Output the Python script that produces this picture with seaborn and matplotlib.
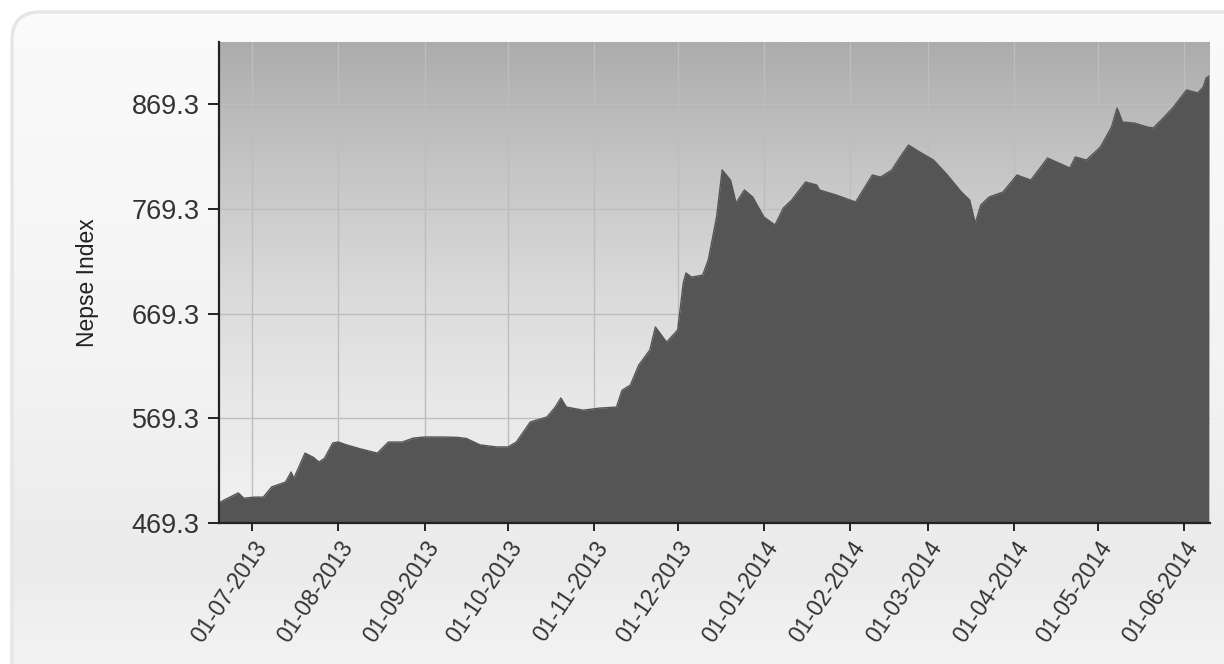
import numpy as np
import pandas as pd
import matplotlib
matplotlib.use("Agg")
import matplotlib.pyplot as plt
import matplotlib.dates as mdates
from matplotlib.colors import LinearSegmentedColormap
from matplotlib.patches import FancyBboxPatch
import seaborn as sns

# Nepse index closing levels (trading days sampled)
dates = [
    "2013-06-19", "2013-06-21", "2013-06-26", "2013-06-28", "2013-07-02", "2013-07-05",
    "2013-07-08", "2013-07-13", "2013-07-15", "2013-07-16", "2013-07-20", "2013-07-23",
    "2013-07-25", "2013-07-27", "2013-07-30", "2013-08-01", "2013-08-04", "2013-08-09",
    "2013-08-15", "2013-08-19", "2013-08-24", "2013-08-28", "2013-09-01", "2013-09-08",
    "2013-09-13", "2013-09-16", "2013-09-21", "2013-09-27", "2013-10-01", "2013-10-04",
    "2013-10-09", "2013-10-15", "2013-10-18", "2013-10-20", "2013-10-22", "2013-10-28",
    "2013-11-03", "2013-11-09", "2013-11-11", "2013-11-14", "2013-11-17", "2013-11-21",
    "2013-11-23", "2013-11-27", "2013-12-01", "2013-12-03", "2013-12-04", "2013-12-06",
    "2013-12-10", "2013-12-12", "2013-12-15", "2013-12-17", "2013-12-20", "2013-12-22",
    "2013-12-25", "2013-12-28", "2014-01-01", "2014-01-05", "2014-01-08", "2014-01-11",
    "2014-01-16", "2014-01-20", "2014-01-21", "2014-01-27", "2014-02-03", "2014-02-05",
    "2014-02-09", "2014-02-12", "2014-02-16", "2014-02-19", "2014-02-22", "2014-02-26",
    "2014-03-03", "2014-03-08", "2014-03-13", "2014-03-16", "2014-03-18", "2014-03-20",
    "2014-03-23", "2014-03-28", "2014-04-02", "2014-04-07", "2014-04-13", "2014-04-17",
    "2014-04-21", "2014-04-23", "2014-04-27", "2014-05-02", "2014-05-06", "2014-05-08",
    "2014-05-10", "2014-05-14", "2014-05-19", "2014-05-21", "2014-05-25", "2014-05-28",
    "2014-06-02", "2014-06-06", "2014-06-08", "2014-06-09", "2014-06-10",
]
nepse = [
    488.4, 491.3, 498.0, 493.0, 494.0, 494.0,
    503.7, 508.4, 518.0, 512.0, 536.0, 532.0,
    527.5, 531.0, 545.7, 546.6, 543.8, 540.0,
    536.0, 546.6, 546.6, 550.4, 551.4, 551.4,
    551.0, 550.0, 543.8, 541.9, 541.9, 546.6,
    565.7, 570.5, 580.0, 588.6, 580.0, 577.0,
    579.0, 580.0, 596.0, 601.0, 620.0, 634.5,
    656.4, 642.0, 653.5, 698.4, 708.0, 704.0,
    706.0, 720.4, 761.4, 806.3, 796.7, 774.8,
    787.2, 780.5, 761.4, 753.8, 770.0, 777.6,
    794.8, 792.0, 787.2, 782.4, 775.7, 784.3,
    801.5, 799.6, 806.3, 818.7, 830.1, 823.5,
    815.8, 801.5, 785.3, 777.6, 755.5, 772.9,
    780.5, 785.3, 801.5, 796.7, 817.7, 813.0,
    808.2, 818.7, 815.8, 828.2, 847.3, 865.5,
    852.0, 851.2, 847.3, 846.4, 857.0, 865.5,
    882.7, 879.8, 885.5, 894.1, 896.0,
]
y_ticks = [469.3, 569.3, 669.3, 769.3, 869.3]
x_ticks = [
    "2013-07-01", "2013-08-01", "2013-09-01", "2013-10-01", "2013-11-01", "2013-12-01",
    "2014-01-01", "2014-02-01", "2014-03-01", "2014-04-01", "2014-05-01", "2014-06-01",
]
y_label = "Nepse Index"

df = pd.DataFrame({"date": pd.to_datetime(dates), "nepse": nepse})

sns.set_theme(style="white")
plt.rcParams["font.family"] = ["Liberation Sans", "DejaVu Sans"]

fig = plt.figure(figsize=(12.24, 6.64), dpi=100)
fig.patch.set_facecolor("white")

# Rounded panel behind the chart
bg = fig.add_axes([0, 0, 1, 1], zorder=-5)
bg.set_xlim(0, 1224)
bg.set_ylim(664, 0)
bg.axis("off")
panel_cmap = LinearSegmentedColormap.from_list(
    "panel", [(0.0, "#fbfbfb"), (0.55, "#f3f3f3"), (0.85, "#ebebeb"), (1.0, "#f3f3f3")])
grad = np.linspace(0, 1, 256).reshape(-1, 1)
img = bg.imshow(grad, extent=[0, 1224, 664, 0], aspect="auto", cmap=panel_cmap,
                origin="upper", zorder=0)
panel = FancyBboxPatch((12, 12), 1260, 700, boxstyle="round,pad=0,rounding_size=28",
                       facecolor="none", edgecolor="#e6e6e6", linewidth=2.5, zorder=1)
bg.add_patch(panel)
img.set_clip_path(panel)

ax = fig.add_axes([219 / 1224, 1 - 523 / 664, (1210 - 219) / 1224, (523 - 42) / 664])

# Plot-area gradient
area_cmap = LinearSegmentedColormap.from_list(
    "area", [(0.0, "#acacac"), (0.25, "#c4c4c4"), (0.5, "#d9d9d9"), (0.75, "#e8e8e8"), (1.0, "#f2f2f2")])
ax.imshow(grad, extent=[0, 1, 0, 1], transform=ax.transAxes, aspect="auto",
          cmap=area_cmap, origin="upper", zorder=0)

ymin, ymax = 469.3, 928.5
ax.fill_between(df["date"], df["nepse"], ymin, color="#555555", linewidth=0, zorder=2)
sns.lineplot(data=df, x="date", y="nepse", ax=ax, color="#555555", linewidth=1.0, zorder=3)

ax.set_xlim(pd.Timestamp("2013-06-19 02:00"), pd.Timestamp("2014-06-10 10:00"))
ax.set_ylim(ymin, ymax)

ax.set_yticks(y_ticks)
ax.set_yticklabels([f"{v:.1f}" for v in y_ticks])
xt = pd.to_datetime(x_ticks)
ax.set_xticks(xt)
ax.set_xticklabels([d.strftime("%d-%m-%Y") for d in xt])

ax.grid(True, color="#bdbdbd", linewidth=1.0)
ax.set_axisbelow(True)
for gl in ax.get_xgridlines() + ax.get_ygridlines():
    gl.set_zorder(1)

for side in ("top", "right"):
    ax.spines[side].set_visible(False)
for side in ("left", "bottom"):
    ax.spines[side].set_color("#222222")
    ax.spines[side].set_linewidth(1.6)
    ax.spines[side].set_zorder(4)

ax.tick_params(axis="y", which="major", direction="out", length=8, width=1.4,
               color="#222222", labelsize=19.5, labelcolor="#333333", pad=6, left=True)
ax.tick_params(axis="x", which="major", direction="out", length=6, width=1.4,
               color="#222222", labelsize=16.5, labelcolor="#333333", pad=4, bottom=True)
for lbl in ax.get_xticklabels():
    lbl.set_rotation(56)
    lbl.set_ha("right")
    lbl.set_va("top")
    lbl.set_rotation_mode("anchor")

ax.set_xlabel("")
ax.set_ylabel(y_label, fontsize=16.5, color="#222222")
ax.yaxis.set_label_coords(-0.121, 0.5)

fig.savefig("out.png", dpi=100, facecolor=fig.get_facecolor())
